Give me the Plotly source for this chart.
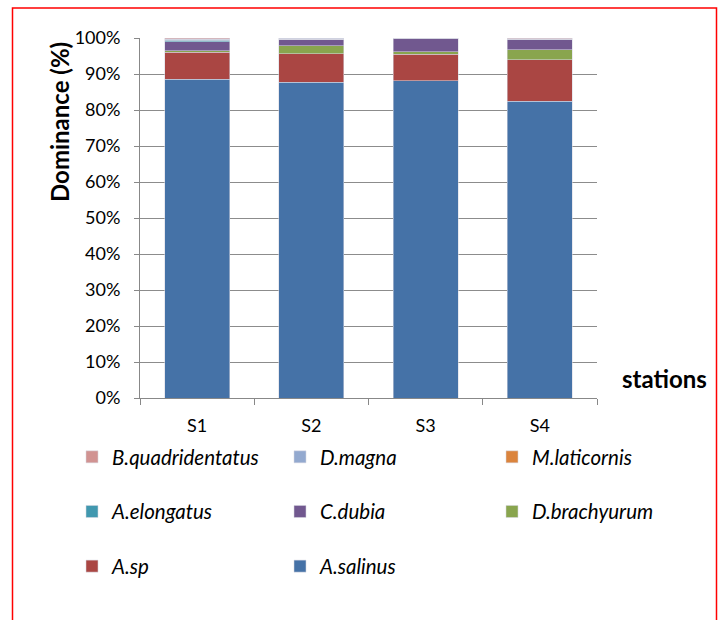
import plotly.graph_objects as go

stations = ["S1", "S2", "S3", "S4"]

# Dominance (%) of each species per station, stacked bottom to top
a_salinus = [88.6, 87.7, 88.1, 82.4]
a_sp = [7.4, 7.9, 7.4, 11.6]
d_brachyurum = [0.4, 2.3, 0.7, 2.7]
c_dubia = [2.5, 1.7, 3.8, 3.0]
a_elongatus = [0.5, 0.0, 0.0, 0.0]
m_laticornis = [0.1, 0.0, 0.0, 0.1]
d_magna = [0.1, 0.4, 0.0, 0.0]
b_quadridentatus = [0.4, 0.0, 0.0, 0.2]

y_ticks = [0, 10, 20, 30, 40, 50, 60, 70, 80, 90, 100]
y_tick_labels = [f"{v}%" for v in y_ticks]

# (name, values, colour, legend column)
series = [
    ("A.salinus", a_salinus, "#4572A7", "legend2"),
    ("A.sp", a_sp, "#AA4643", "legend"),
    ("D.brachyurum", d_brachyurum, "#89A54E", "legend3"),
    ("C.dubia", c_dubia, "#71588F", "legend2"),
    ("A.elongatus", a_elongatus, "#4198AF", "legend"),
    ("M.laticornis", m_laticornis, "#DB843D", "legend3"),
    ("D.magna", d_magna, "#93A9CF", "legend2"),
    ("B.quadridentatus", b_quadridentatus, "#D19392", "legend"),
]

# top-to-bottom order inside each legend column
rank = {
    "B.quadridentatus": 1, "D.magna": 1, "M.laticornis": 1,
    "A.elongatus": 2, "C.dubia": 2, "D.brachyurum": 2,
    "A.sp": 3, "A.salinus": 3,
}

fig = go.Figure()
for name, vals, color, leg in series:
    fig.add_trace(go.Bar(
        x=stations, y=vals, name=name,
        marker=dict(color=color, line=dict(width=0.6, color="rgba(215,215,225,0.9)")),
        width=0.57, legend=leg, legendrank=rank[name], legendgroup=name,
    ))

plot_l, plot_r, plot_t, plot_b = 140, 597, 38, 398
pw = plot_r - plot_l
ph = plot_b - plot_t


def px_x(x):
    return (x - plot_l) / pw


def px_y(y):
    return (plot_b - y) / ph


label_font = "Lato, 'Open Sans', sans-serif"
legend_font = dict(family=label_font, size=20.5, color="#000", style="italic")
leg_common = dict(
    orientation="v", xanchor="left", yanchor="top",
    y=px_y(437), font=legend_font, bgcolor="rgba(0,0,0,0)",
    tracegroupgap=25, traceorder="grouped",
)

fig.update_layout(
    width=724, height=620,
    margin=dict(l=plot_l, r=724 - plot_r, t=plot_t, b=620 - plot_b),
    barmode="stack",
    plot_bgcolor="white", paper_bgcolor="white",
    font=dict(family=label_font, size=18, color="#000"),
    legend=dict(**leg_common, x=px_x(72)),
    legend2=dict(**leg_common, x=px_x(280)),
    legend3=dict(**leg_common, x=px_x(492)),
    xaxis=dict(
        showline=True, linecolor="#888", linewidth=1,
        ticks="outside", tickson="boundaries", ticklen=6, tickcolor="#888",
        showgrid=False, tickfont=dict(size=18), ticklabelstandoff=11,
    ),
    yaxis=dict(
        range=[0, 100], tickvals=y_ticks, ticktext=y_tick_labels,
        showline=True, linecolor="#888", linewidth=1,
        ticks="outside", ticklen=5, tickcolor="#888",
        showgrid=True, gridcolor="#8c8c8c", gridwidth=1,
        tickfont=dict(size=18), zeroline=False, ticklabelstandoff=10,
    ),
    annotations=[
        dict(text="<b>Dominance (%)</b>", xref="paper", yref="paper",
             x=px_x(60), y=px_y(122), textangle=-90, showarrow=False,
             font=dict(family=label_font, size=24),
             xanchor="center", yanchor="middle"),
        dict(text="<b>stations</b>", xref="paper", yref="paper",
             x=px_x(664), y=px_y(378), showarrow=False,
             font=dict(family=label_font, size=24),
             xanchor="center", yanchor="middle"),
    ],
    shapes=[
        dict(type="rect", xref="paper", yref="paper",
             x0=px_x(12.5), x1=px_x(716.5), y0=px_y(640), y1=px_y(8),
             line=dict(color="#ff0000", width=1.5), fillcolor="rgba(0,0,0,0)",
             layer="below"),
    ],
)

fig.write_html("out.html")
